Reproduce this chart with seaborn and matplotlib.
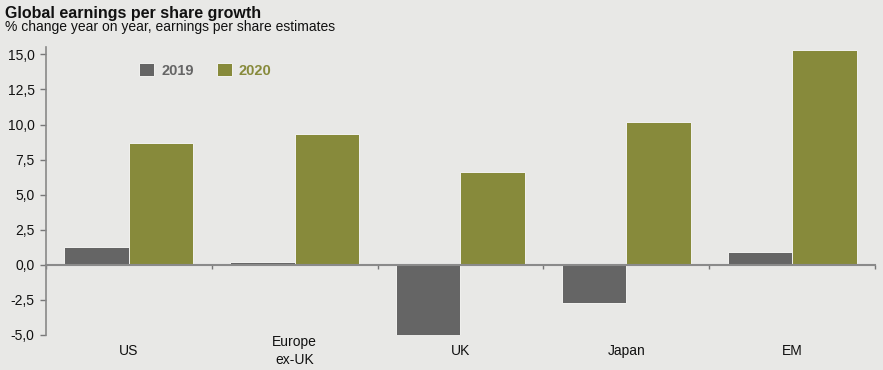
import pandas as pd
import seaborn as sns
import matplotlib.pyplot as plt
from matplotlib.ticker import FuncFormatter, FixedLocator

# ----------------------------------------
# Data
# ----------------------------------------

regions = ["US", "Europe\nex-UK", "UK", "Japan", "EM"]
eps_2019 = [1.3, 0.2, -5.0, -2.7, 0.9]
eps_2020 = [8.7, 9.3, 6.6, 10.2, 15.3]
years = ["2019", "2020"]
y_ticks = [-5.0, -2.5, 0.0, 2.5, 5.0, 7.5, 10.0, 12.5, 15.0]

BG = "#e8e8e6"
COLORS = {"2019": "#656565", "2020": "#878a3b"}

df = pd.DataFrame({
    "region": regions * 2,
    "year": [years[0]] * len(regions) + [years[1]] * len(regions),
    "eps": eps_2019 + eps_2020,
})

# ----------------------------------------
# Plot
# ----------------------------------------

sns.set_style("white")
plt.rcParams["font.family"] = ["Liberation Sans", "DejaVu Sans"]

fig = plt.figure(figsize=(8.83, 3.7), dpi=100, facecolor=BG)
ax = fig.add_axes([0.0518, 0.0946, 0.9393, 0.7794], facecolor=BG)

sns.barplot(data=df, x="region", y="eps", hue="year", order=regions,
            palette=COLORS, width=0.78, edgecolor="#f2f2f0", linewidth=0.7,
            saturation=1, ax=ax)

ax.set_xlim(-0.5, len(regions) - 0.5)
ax.set_ylim(-5.0, 15.55)
ax.set_xlabel("")
ax.set_ylabel("")

# y axis
ax.set_yticks(y_ticks)
ax.yaxis.set_major_formatter(FuncFormatter(lambda v, p: f"{v:.1f}".replace(".", ",")))
ax.tick_params(axis="y", left=True, direction="out", length=4, width=1,
               color="#777777", pad=4, labelsize=10, labelcolor="#111111")

# x axis sits on the zero line, ticks at category boundaries
for side in ["top", "right"]:
    ax.spines[side].set_visible(False)
ax.spines["left"].set_color("#888888")
ax.spines["left"].set_linewidth(1.2)
ax.spines["bottom"].set_position(("data", 0))
ax.spines["bottom"].set_color("#8a8a8a")
ax.spines["bottom"].set_linewidth(1.5)
ax.spines["bottom"].set_zorder(1)
ax.xaxis.set_minor_locator(FixedLocator([i - 0.5 for i in range(len(regions) + 1)]))
ax.tick_params(axis="x", which="minor", bottom=True, direction="out", length=3,
               width=1, color="#777777")
ax.tick_params(axis="x", which="major", bottom=False, length=0, pad=62,
               labelsize=10, labelcolor="#111111")
for lab in ax.get_xticklabels():
    lab.set_verticalalignment("center")
    lab.set_linespacing(1.3)

# legend
handles, labels = ax.get_legend_handles_labels()
leg = ax.legend(handles, labels, loc="center left", bbox_to_anchor=(0.097, 0.918),
                ncol=2, frameon=False, handlelength=1.0, handleheight=1.0,
                handletextpad=0.5, columnspacing=1.6,
                prop={"weight": "bold", "size": 10.5})
for txt, yr in zip(leg.get_texts(), labels):
    txt.set_color(COLORS[yr])

# titles
fig.text(0.006, 0.963, "Global earnings per share growth", fontsize=11.5,
         fontweight="bold", color="#111111", va="center")
fig.text(0.006, 0.927, "% change year on year, earnings per share estimates",
         fontsize=10, color="#111111", va="center")

plt.savefig("out.png", dpi=100, facecolor=BG)
